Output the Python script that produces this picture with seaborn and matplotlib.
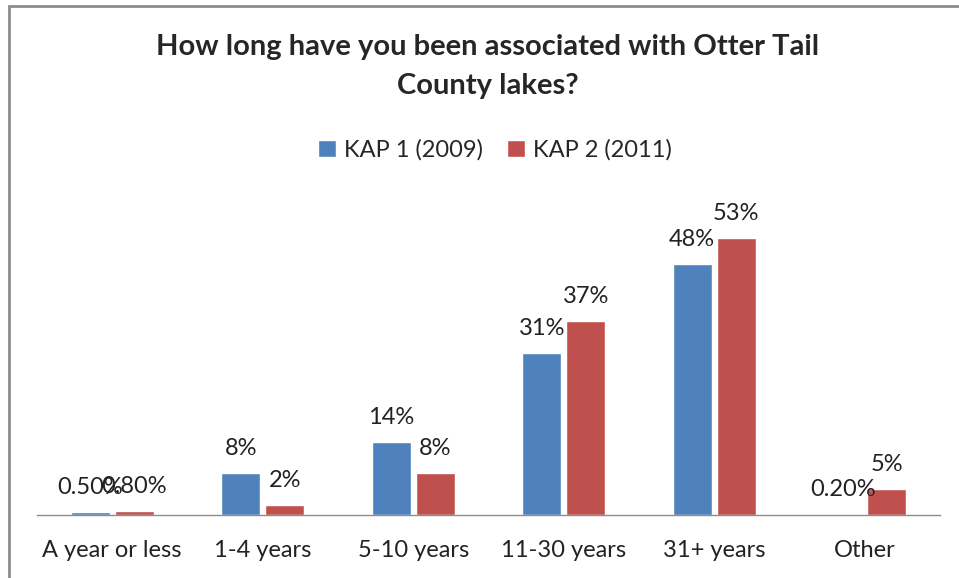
import numpy as np
import pandas as pd
import matplotlib
matplotlib.use("Agg")
import matplotlib.pyplot as plt
import seaborn as sns
from matplotlib.patches import Rectangle, Patch

categories = ["A year or less", "1-4 years", "5-10 years", "11-30 years", "31+ years", "Other"]
kap1_values = [0.5, 8, 14, 31, 48, 0.2]
kap2_values = [0.8, 2, 8, 37, 53, 5]
kap1_labels = ["0.50%", "8%", "14%", "31%", "48%", "0.20%"]
kap2_labels = ["0.80%", "2%", "8%", "37%", "53%", "5%"]
series_names = ["KAP 1 (2009)", "KAP 2 (2011)"]
colors = ["#4F81BD", "#C0504D"]

df = pd.DataFrame({
    "category": categories * 2,
    "value": kap1_values + kap2_values,
    "series": [series_names[0]] * len(categories) + [series_names[1]] * len(categories),
})

sns.set_style("white")
plt.rcParams["font.family"] = ["Lato", "DejaVu Sans"]

fig = plt.figure(figsize=(9.59, 5.78), dpi=100)
W, H = 959, 578

# outer chart frame (gray border, cut at right/bottom)
fig.patches.append(Rectangle((9 / W, -0.1), 1.2, 1 - 6 / H + 0.1, transform=fig.transFigure,
                             fill=False, edgecolor="#8c8c8c", linewidth=2))

ax = fig.add_axes([37 / W, 63 / H, 903 / W, 314 / H])
sns.barplot(data=df, x="category", y="value", hue="series", palette=colors,
            width=0.585, gap=0.11, ax=ax, legend=False, saturation=1)

ax.set_ylim(0, 60)
ax.set_xlim(-0.5, len(categories) - 0.5)
ax.set_xlabel("")
ax.set_ylabel("")
ax.set_yticks([])
for s in ["top", "right", "left"]:
    ax.spines[s].set_visible(False)
ax.spines["bottom"].set_color("#8c8c8c")
ax.spines["bottom"].set_linewidth(1)
ax.tick_params(axis="x", length=0, pad=18, labelsize=17, labelcolor="#222222")
ax.patch.set_alpha(0)

for cont, labs in zip(ax.containers, [kap1_labels, kap2_labels]):
    ax.bar_label(cont, labels=labs, padding=10, fontsize=17, color="#222222")

title_x = 488 / W
fig.text(title_x, 1 - 47 / H, "How long have you been associated with Otter Tail",
         ha="center", va="center", fontsize=21, fontweight="bold")
fig.text(title_x, 1 - 86 / H, "County lakes?",
         ha="center", va="center", fontsize=21, fontweight="bold")

handles = [Patch(facecolor=c, label=n) for c, n in zip(colors, series_names)]
fig.legend(handles=handles, loc="center", bbox_to_anchor=(495 / W, 1 - 150 / H), ncol=2,
           frameon=False, fontsize=17, handlelength=0.75, handleheight=0.75,
           handletextpad=0.35, columnspacing=1.0)

fig.savefig("out.png", dpi=100)
